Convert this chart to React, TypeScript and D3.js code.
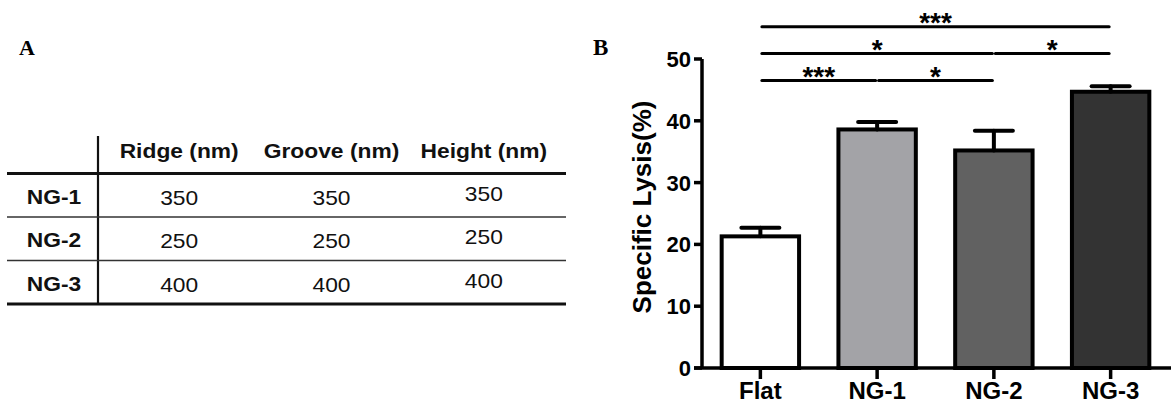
import React from "react";
import * as d3 from "d3";

// ---------- Panel A: table data ----------
const tableColumns = ["Ridge (nm)", "Groove (nm)", "Height (nm)"];
const tableRows = ["NG-1", "NG-2", "NG-3"];
const ridgeValues = [350, 250, 400];
const grooveValues = [350, 250, 400];
const heightValues = [350, 250, 400];

// ---------- Panel B: bar chart data ----------
const categories = ["Flat", "NG-1", "NG-2", "NG-3"];
const lysisMean = [21.3, 38.6, 35.2, 44.7];
const lysisError = [1.4, 1.2, 3.2, 0.9];
const barColors = ["#ffffff", "#a3a3a7", "#616161", "#333333"];
const yTicks = [0, 10, 20, 30, 40, 50];
const sigFrom = ["Flat", "Flat", "NG-2", "Flat", "NG-1"];
const sigTo = ["NG-3", "NG-2", "NG-3", "NG-1", "NG-2"];
const sigLabel = ["***", "*", "*", "***", "*"];
const sigLevel = [0, 1, 1, 2, 2];

const SANS = "'Liberation Sans', Arial, Helvetica, sans-serif";
const SERIF = "'Liberation Serif', 'Times New Roman', serif";

export default function App() {
  const W = 1171;
  const H = 406;

  // Panel A scales
  const colX = d3.scaleBand<string>().domain(tableColumns).range([103, 560]);
  const rowY = d3.scaleBand<string>().domain(tableRows).range([173.5, 304]);
  const tableColumnsData = [ridgeValues, grooveValues, heightValues];
  const stretch = 1.14;

  // Panel B scales
  const x = d3.scaleBand<string>().domain(categories).range([702, 1169]);
  const y = d3.scaleLinear().domain([0, 50]).range([368, 59]);
  const barW = x.step() * 0.663;
  const cx = (c: string) => (x(c) as number) + x.bandwidth() / 2;
  const sigY = d3.scaleLinear().domain([0, 2]).range([26.7, 80.5]);

  return (
    <svg
      width={W}
      height={H}
      style={{ position: "absolute", left: 0, top: 0, background: "#fff" }}
    >
      <rect x={0} y={0} width={W} height={H} fill="#fff" />
      {/* Panel letters */}
      <text x={19} y={55} fontFamily={SERIF} fontWeight="bold" fontSize={22}>
        A
      </text>
      <text x={593} y={55} fontFamily={SERIF} fontWeight="bold" fontSize={23}>
        B
      </text>

      {/* ---------- Table ---------- */}
      <g>
        <line x1={98} x2={98} y1={136} y2={304} stroke="#111" strokeWidth={2.2} />
        <line x1={7} x2={566} y1={173.5} y2={173.5} stroke="#111" strokeWidth={2.8} />
        {tableRows.slice(1).map((r) => (
          <line
            key={r}
            x1={7}
            x2={566}
            y1={rowY(r) as number}
            y2={rowY(r) as number}
            stroke="#333"
            strokeWidth={1.7}
          />
        ))}
        <line x1={7} x2={566} y1={304} y2={304} stroke="#111" strokeWidth={2.8} />
        {tableColumns.map((c) => (
          <text
            key={c}
            transform={`translate(${(colX(c) as number) + colX.bandwidth() / 2},157.5) scale(${stretch},1)`}
            textAnchor="middle"
            fontFamily={SANS}
            fontWeight="bold"
            fontSize={20}
            fill="#111"
          >
            {c}
          </text>
        ))}
        {tableRows.map((r) => {
          const cy = (rowY(r) as number) + rowY.bandwidth() / 2;
          return (
            <g key={r}>
              <text
                transform={`translate(54,${cy + 8.5}) scale(${stretch},1)`}
                textAnchor="middle"
                fontFamily={SANS}
                fontWeight="bold"
                fontSize={20}
                fill="#111"
              >
                {r}
              </text>
              {tableColumns.map((c, ci) => {
                const v = tableColumnsData[ci][tableRows.indexOf(r)];
                const dy = ci === 2 ? 5.5 : 9.5;
                return (
                  <text
                    key={c}
                    transform={`translate(${(colX(c) as number) + colX.bandwidth() / 2},${cy + dy}) scale(${stretch},1)`}
                    textAnchor="middle"
                    fontFamily={SANS}
                    fontSize={20}
                    fill="#111"
                  >
                    {v}
                  </text>
                );
              })}
            </g>
          );
        })}
      </g>

      {/* ---------- Bar chart ---------- */}
      <g>
        {/* bars */}
        {categories.map((c, i) => (
          <rect
            key={c}
            x={cx(c) - barW / 2}
            y={y(lysisMean[i])}
            width={barW}
            height={y(0) - y(lysisMean[i])}
            fill={barColors[i]}
            stroke="#000"
            strokeWidth={4}
          />
        ))}
        {/* error bars */}
        {categories.map((c, i) => (
          <g key={c} stroke="#000" strokeWidth={4} strokeLinecap="round">
            <line x1={cx(c)} x2={cx(c)} y1={y(lysisMean[i])} y2={y(lysisMean[i] + lysisError[i])} />
            <line
              x1={cx(c) - 19}
              x2={cx(c) + 19}
              y1={y(lysisMean[i] + lysisError[i])}
              y2={y(lysisMean[i] + lysisError[i])}
            />
          </g>
        ))}
        {/* y axis */}
        <line x1={702} x2={702} y1={y(50)} y2={y(0)} stroke="#000" strokeWidth={3.5} />
        {yTicks.map((t) => (
          <g key={t}>
            <line x1={694} x2={702} y1={y(t)} y2={y(t)} stroke="#000" strokeWidth={3.5} />
            <text
              x={691}
              y={y(t) + 8}
              textAnchor="end"
              fontFamily={SANS}
              fontWeight="bold"
              fontSize={22}
              fill="#000"
            >
              {t}
            </text>
          </g>
        ))}
        {/* x axis */}
        <line x1={694} x2={1171} y1={y(0)} y2={y(0)} stroke="#000" strokeWidth={3.5} />
        {categories.map((c) => (
          <g key={c}>
            <line x1={cx(c)} x2={cx(c)} y1={y(0)} y2={y(0) + 11} stroke="#000" strokeWidth={3.5} />
            <text
              x={cx(c)}
              y={399}
              textAnchor="middle"
              fontFamily={SANS}
              fontWeight="bold"
              fontSize={24}
              fill="#000"
            >
              {c}
            </text>
          </g>
        ))}
        {/* y title */}
        <text
          transform={`translate(651,207) rotate(-90)`}
          textAnchor="middle"
          fontFamily={SANS}
          fontWeight="bold"
          fontSize={26}
          fill="#000"
        >
          Specific Lysis(%)
        </text>
        {/* significance */}
        {sigFrom.map((f, i) => {
          const x1 = cx(f) + 1.5;
          const x2 = cx(sigTo[i]) - 1.5;
          const ly = sigY(sigLevel[i]);
          return (
            <g key={i}>
              <line x1={x1} x2={x2} y1={ly} y2={ly} stroke="#000" strokeWidth={3} strokeLinecap="round" />
              <text
                x={(x1 + x2) / 2}
                y={ly + 5}
                textAnchor="middle"
                fontFamily={SANS}
                fontWeight="bold"
                fontSize={28}
                fill="#000"
              >
                {sigLabel[i]}
              </text>
            </g>
          );
        })}
      </g>
    </svg>
  );
}
